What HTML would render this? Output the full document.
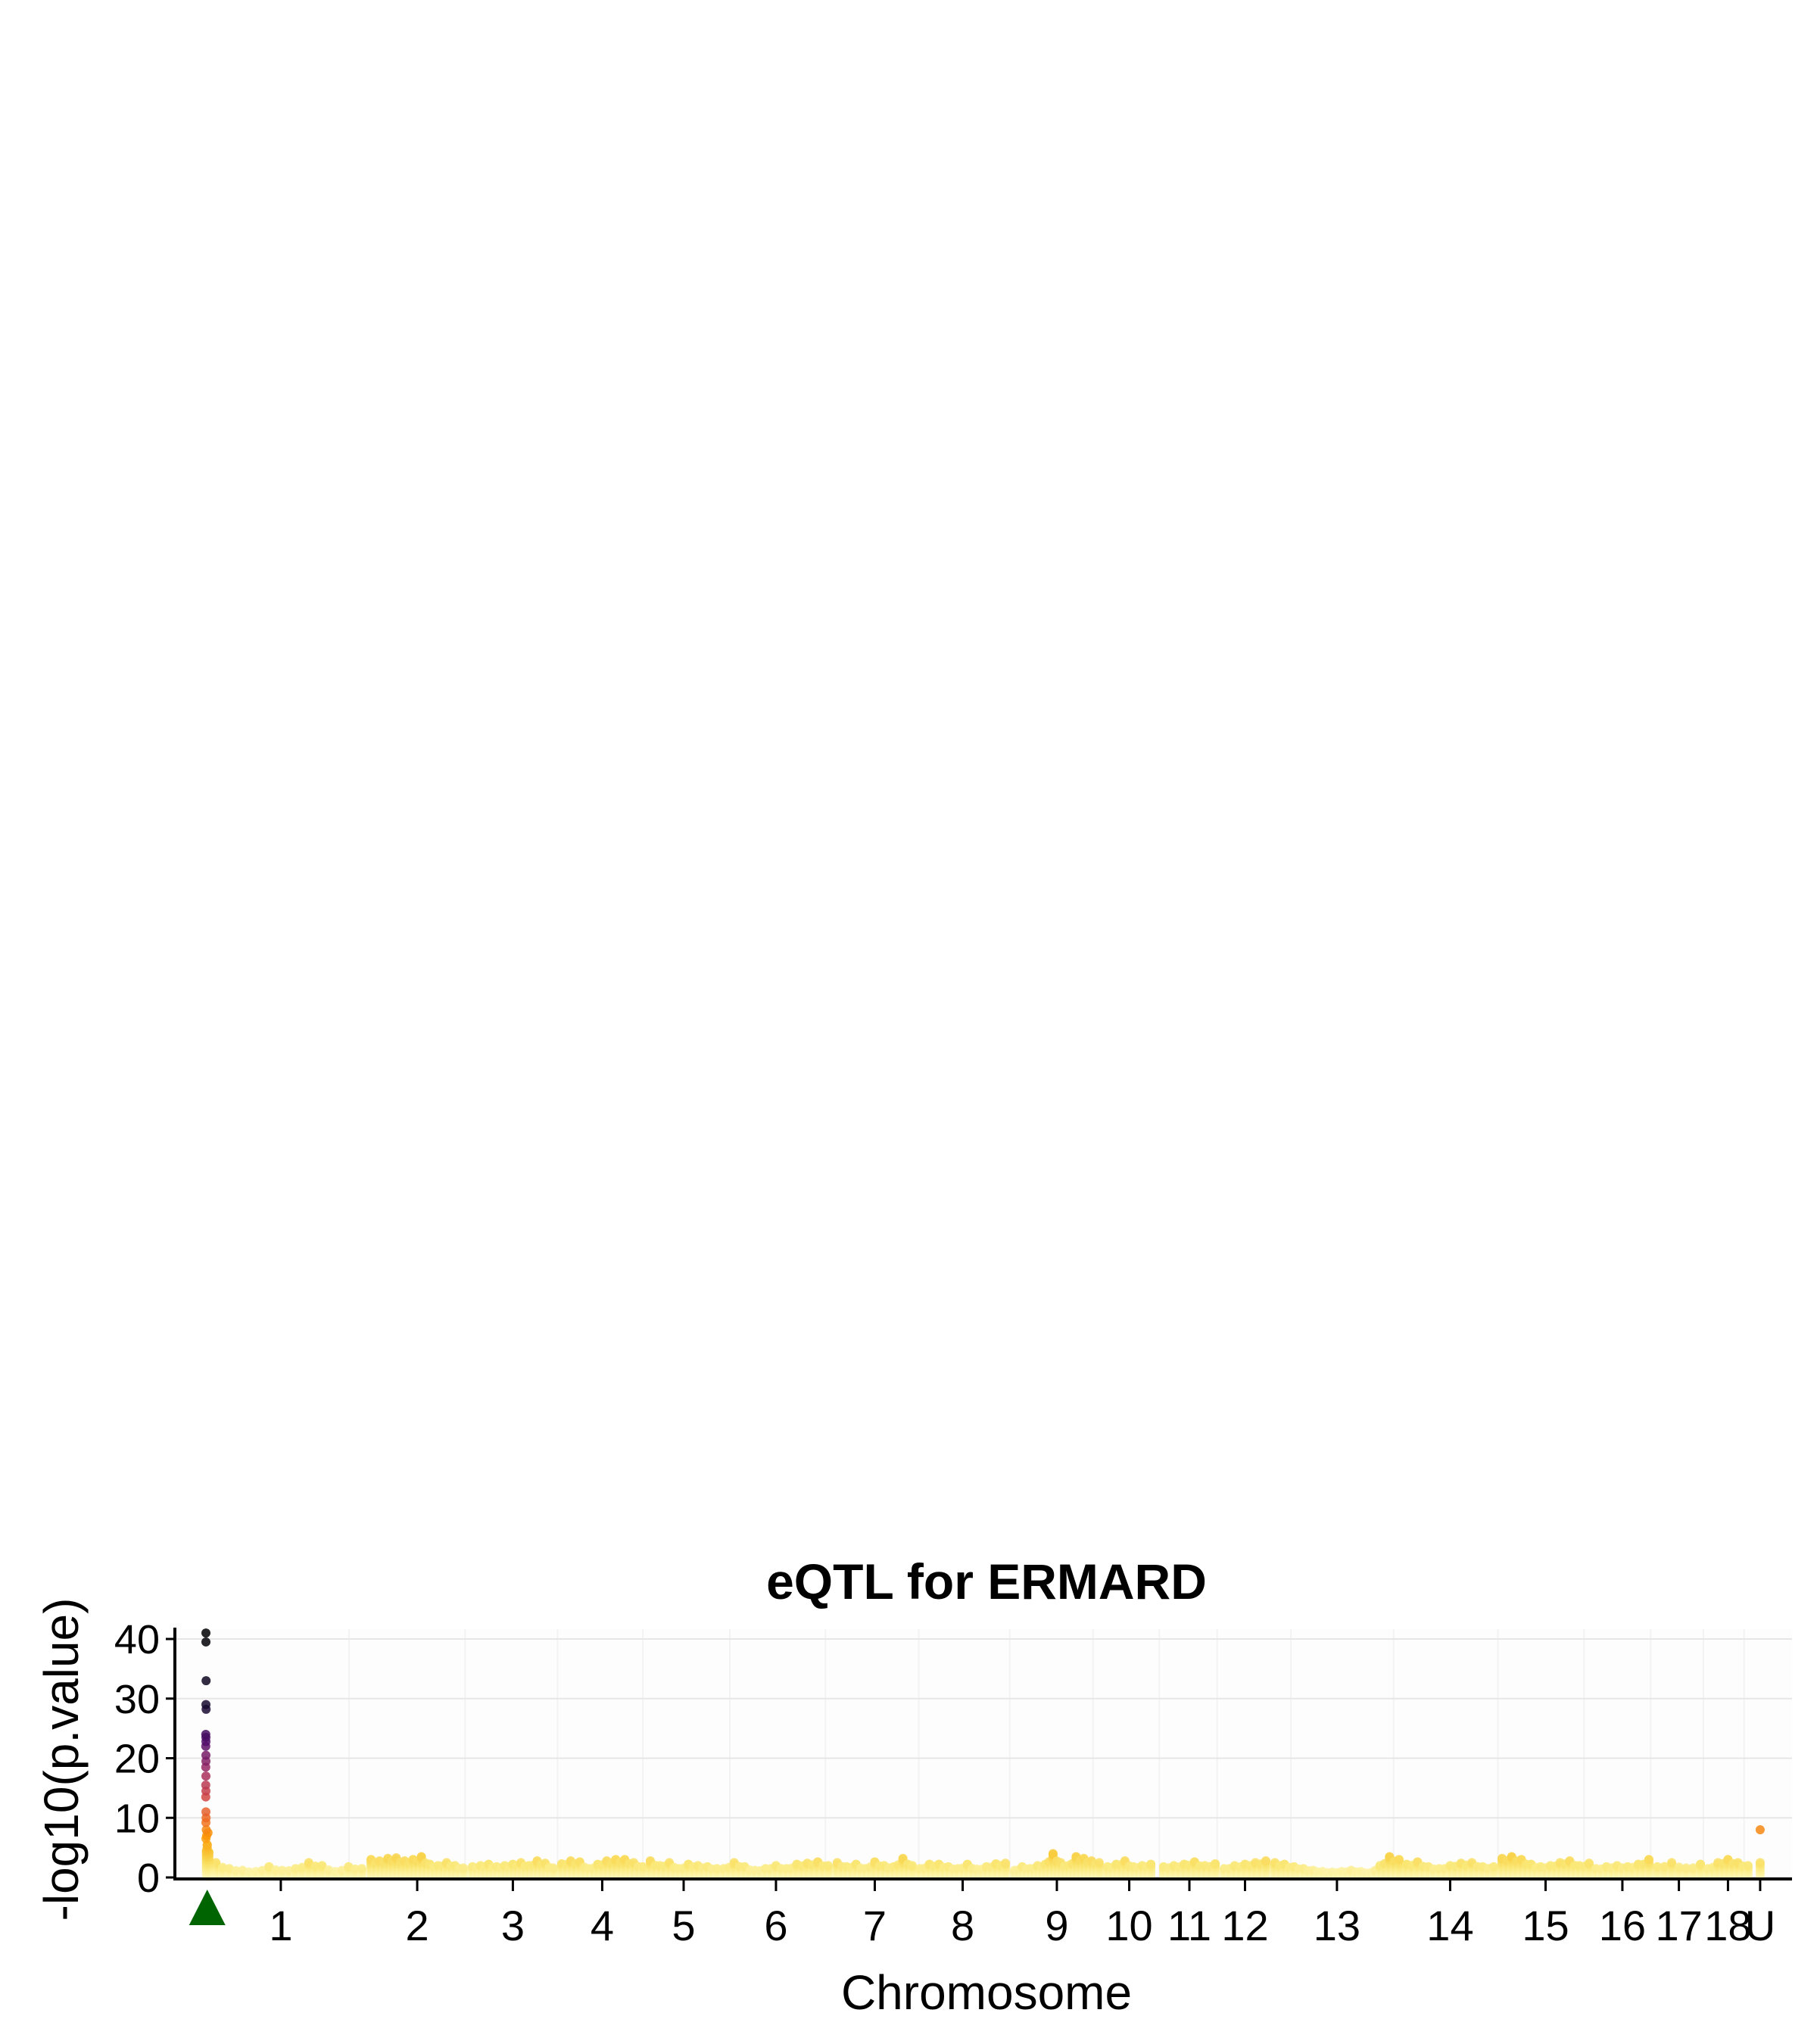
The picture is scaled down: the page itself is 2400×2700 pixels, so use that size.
<!DOCTYPE html>
<html><head><meta charset="utf-8"><style>
html,body{margin:0;padding:0;background:#fff;}
svg{display:block;font-family:"Liberation Sans",sans-serif;}
</style></head><body>
<svg id="chart" width="2400" height="2700" viewBox="0 0 2400 2700" xmlns="http://www.w3.org/2000/svg">
<rect x="0" y="0" width="2400" height="2700" fill="#fff"/>
<text x="1303" y="2112" text-anchor="middle" font-size="66" font-weight="bold">eQTL for ERMARD</text>
<text transform="translate(103,2324) rotate(-90)" text-anchor="middle" font-size="64">-log10(p.value)</text>
<text x="1303" y="2654" text-anchor="middle" font-size="64">Chromosome</text>
<g id="grid"></g>
<g id="points"></g>
<g id="axes"></g>
</svg>
<script>
const chromNames=["1","2","3","4","5","6","7","8","9","10","11","12","13","14","15","16","17","18","U"];
const chromStart=[15.4,121.3,184,239.2,294,339.4,409.6,460.7,519.2,576.8,611.4,648.9,680.2,761.7,820.7,878.7,916.7,948,977.5];
const chromEnd=[115.6,178.4,234,289.3,335.2,404,456,513.6,571.6,603.5,643.3,674.6,757,815.5,874.5,911.5,943.4,972.8,983.1];
const chromValues=[
[2.5,1.5,1.2,1.0,1.8,1.2,1.5,2.5,2.0,1.0,1.8,1.5],
[3,2.8,3.2,3.3,2.8,3.0,3.5,2.2,2.0,2.5,2.0,1.6],
[1.8,2.0,2.2,1.8,2.0,2.2,2.5,2.0,2.8,2.4,1.6],
[2.3,2.8,2.6,1.5,2.2,2.8,3.0,3.0,2.5,1.8],
[2.8,2.0,2.5,1.5,2.2,2.0,1.8,1.5],
[1.5,2.5,1.8,1.2,1.5,2.0,1.5,2.2,2.4,2.6,2.0],
[2.5,1.8,2.2,1.5,2.6,2.0,1.8,3.2,2.0],
[1.5,2.2,2.2,1.8,1.5,2.2,1.4,1.8,2.3,2.4],
[1.2,1.8,1.5,2.0,2.2,4.0,2.5,2.0,3.5,3.2,2.8,2.5],
[1.8,2.2,2.8,1.8,2.0,2.2],
[1.8,2.0,2.2,2.6,2.0,2.3],
[1.5,2.0,2.2,2.5,2.8],
[2.5,2.2,1.8,1.5,1.2,1.0,0.9,1.0,1.2,1.0,0.8,2.0,3.5,3.0],
[2.2,2.6,1.8,1.5,2.0,2.4,2.5,1.8,1.8],
[3.2,3.5,3.0,2.2,1.8,2.0,2.5,2.8,2.0,2.4],
[1.5,1.8,2.0,1.8,2.2,3.0],
[1.8,2.5,1.6,2.2],
[1.5,2.5,3.0,2.5,2.0],
[2.5]
];
const peakPos=[19.2,19.2,19.3,19.2,19.3,19.1,19.2,19.2,19.1,19.2,19.2,19.1,19.2,19.1,19.2,19.1,19.2,19.3,19.2,19.4,20.5,19.6,19.2,20.0,19.5,21.0,20.0,21.5,22.5];
const peakVals=[41,39.5,33,29,28.2,24,23.5,22.8,22,20.5,19.5,18.5,17,15.5,14.5,13.5,11,10,9.2,8,7.5,7,6.5,5.5,4.5,4.2,3.2,2.6,2.2];
const extraPos=[980.3];
const extraVals=[8];
const genePos=20;
const yTicks=[0,10,20,30,40];

const NS="http://www.w3.org/2000/svg";
const X0=231,X1=2367,Y0=2480,Ypx=7.875;
function xs(u){return X0+(u/1000)*(X1-X0);}
function ys(v){return Y0-v*Ypx;}
function el(t,a,p){const e=document.createElementNS(NS,t);for(const k in a)e.setAttribute(k,a[k]);p.appendChild(e);return e;}
const stops=[[0,[255,249,196]],[2,[249,232,120]],[4,[248,203,60]],[7,[251,150,6]],[10,[237,106,37]],[14,[204,66,72]],[18,[158,42,99]],[23,[78,13,107]],[28,[26,11,52]],[40,[0,0,4]]];
function col(v){if(v>=40)return "rgb(0,0,4)";for(let i=0;i<stops.length-1;i++){if(v<=stops[i+1][0]){const t=(v-stops[i][0])/(stops[i+1][0]-stops[i][0]);const a=stops[i][1],b=stops[i+1][1];return `rgb(${Math.round(a[0]+(b[0]-a[0])*t)},${Math.round(a[1]+(b[1]-a[1])*t)},${Math.round(a[2]+(b[2]-a[2])*t)})`;}}return "rgb(0,0,4)";}

const grid=document.getElementById('grid'),pts=document.getElementById('points'),axes=document.getElementById('axes');
const mids=chromStart.map((s,i)=>(s+chromEnd[i])/2);
el('rect',{x:X0,y:2152,width:X1-X0,height:Y0-2152+2,fill:'#fdfdfd'},grid);
for(let i=0;i<mids.length-1;i++){const m=(mids[i]+mids[i+1])/2;const l=el('line',{x1:xs(m),x2:xs(m),y1:2152,y2:Y0,stroke:'#f3f3f3','stroke-width':2},grid);

}
yTicks.forEach(t=>{const l=el('line',{x1:X0,x2:X1,y1:ys(t),y2:ys(t),stroke:'#e6e6e6','stroke-width':2},grid);

});

function dot(x,v,name){const c=el('circle',{cx:xs(x),cy:ys(v),r:6,fill:col(v),'fill-opacity':0.85},pts);

}
function stack(x,v,name){for(let h=0.2;h<v;h+=0.4)dot(x,h,name);dot(x,v,name);}
chromValues.forEach((vals,i)=>{const s=chromStart[i]+(i===0?10:0),e=chromEnd[i];const n=vals.length;
vals.forEach((v,j)=>{const x=n===1?(s+e)/2:s+(e-s)*j/(n-1);stack(x,v,'snp-chr'+chromNames[i]);
if(n>1&&j<n-1){const x2=s+(e-s)*(j+0.5)/(n-1);stack(x2,(v+vals[j+1])/2*0.85,'snp-chr'+chromNames[i]);}});});
for(let i=peakVals.length-1;i>=0;i--){if(peakVals[i]<6)stack(peakPos[i],peakVals[i],'peak-snp');else dot(peakPos[i],peakVals[i],'peak-snp');}
extraVals.forEach((v,i)=>dot(extraPos[i],v,'snp-chrU-outlier'));

const ya=el('line',{x1:X0,x2:X0,y1:2150,y2:Y0+2,stroke:'#000','stroke-width':4},axes);


const xa=el('line',{x1:X0-2,x2:X1,y1:Y0+2,y2:Y0+2,stroke:'#000','stroke-width':4},axes);


yTicks.forEach(t=>{const l=el('line',{x1:X0-12,x2:X0,y1:ys(t),y2:ys(t),stroke:'#000','stroke-width':3},axes);


const tx=el('text',{x:X0-20,y:ys(t)+19,'text-anchor':'end','font-size':54},axes);tx.textContent=t;

});
mids.forEach((m,i)=>{const l=el('line',{x1:xs(m),x2:xs(m),y1:Y0+2,y2:Y0+18,stroke:'#000','stroke-width':3},axes);


const tx=el('text',{x:xs(m),y:2563,'text-anchor':'middle','font-size':56},axes);tx.textContent=chromNames[i];

});
const gx=xs(genePos);
const tri=el('polygon',{points:`${gx-24},2543 ${gx+24},2543 ${gx},2496`,fill:'#006400'},axes);


</script>
</body></html>
